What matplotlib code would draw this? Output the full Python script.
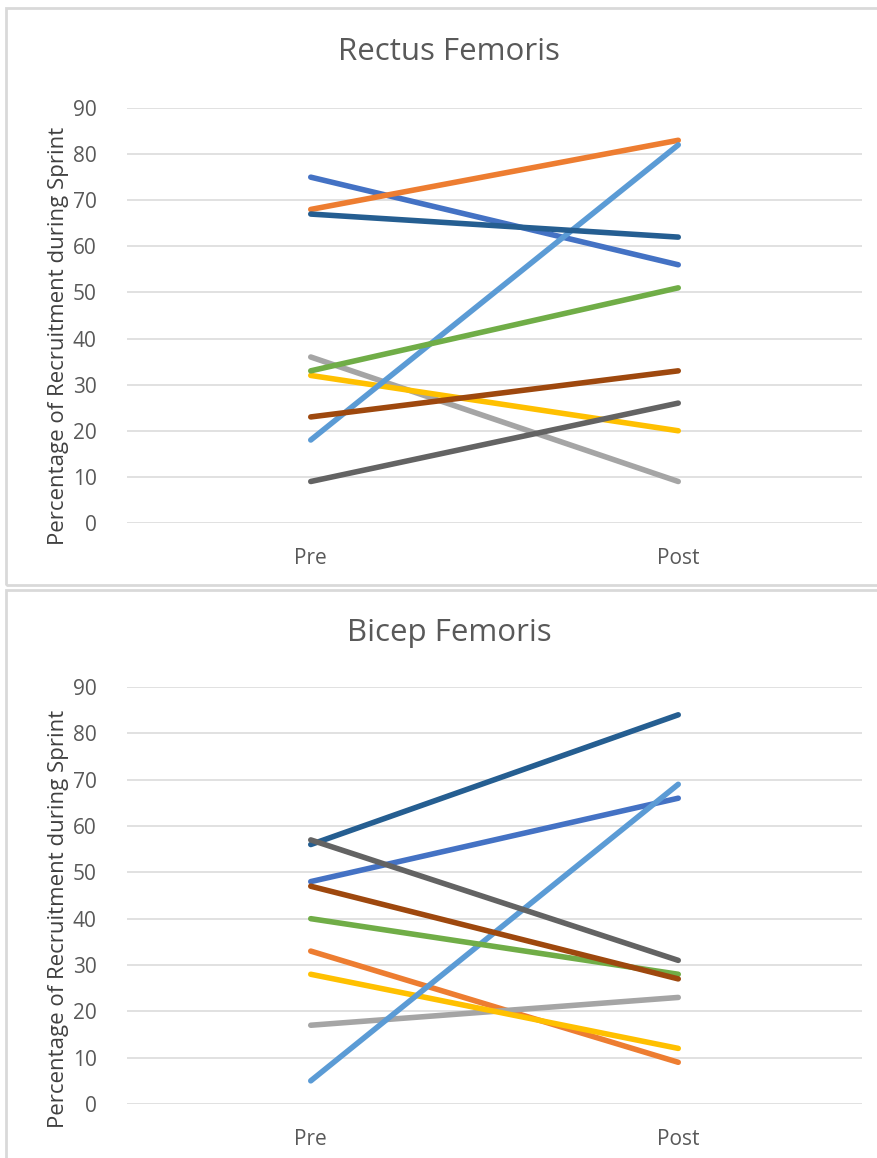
import matplotlib
matplotlib.use("Agg")
import matplotlib.pyplot as plt
from matplotlib.patches import Rectangle

plt.rcParams["font.family"] = ["Open Sans", "DejaVu Sans"]

phases = ["Pre", "Post"]
series_colors = ["#4472C4", "#ED7D31", "#A5A5A5", "#FFC000", "#5B9BD5",
                 "#70AD47", "#255E91", "#9E480E", "#636363"]

# percentage of recruitment, one [pre, post] pair per participant
rectus_femoris = [
    [75, 56], [68, 83], [36, 9], [32, 20], [18, 82],
    [33, 51], [67, 62], [23, 33], [9, 26],
]
bicep_femoris = [
    [48, 66], [33, 9], [17, 23], [28, 12], [5, 69],
    [40, 28], [56, 84], [47, 27], [57, 31],
]

W, H = 878, 1158
fig = plt.figure(figsize=(W / 100, H / 100), dpi=100)
fig.patch.set_facecolor("white")

grid_c = "#D9D9D9"
text_c = "#595959"


def px_box(x0, y_top, x1, y_bot):
    return [x0 / W, 1 - y_bot / H, (x1 - x0) / W, (y_bot - y_top) / H]


def frame(x0, y0, x1, y1):
    fig.patches.append(Rectangle((x0 / W, 1 - y1 / H), (x1 - x0) / W, (y1 - y0) / H,
                                 transform=fig.transFigure, fill=False,
                                 edgecolor=grid_c, lw=2.0))


def panel(data, title, y_top, y_bot, title_y, label_y):
    ax = fig.add_axes(px_box(127, y_top, 862, y_bot))
    for vals, col in zip(data, series_colors):
        ax.plot([0, 1], vals, color=col, lw=4.0, solid_capstyle="round", zorder=3)
    ax.set_xlim(-0.5, 1.5)
    ax.set_ylim(0, 90)
    ax.set_yticks(range(0, 91, 10))
    ax.set_xticks([0, 1])
    ax.set_xticklabels(phases)
    ax.yaxis.grid(True, color=grid_c, lw=1.1)
    ax.set_axisbelow(True)
    for s in ax.spines.values():
        s.set_visible(False)
    ax.tick_params(axis="both", length=0, colors=text_c, labelsize=15)
    ax.tick_params(axis="y", pad=22)
    ax.tick_params(axis="x", pad=18)
    fig.text(449 / W, 1 - title_y / H, title, ha="center", va="center",
             fontsize=22.5, color=text_c)
    fig.text(59 / W, 1 - label_y / H, "Percentage of Recruitment during Sprint",
             rotation=90, ha="center", va="center", fontsize=16, color="#404040")
    return ax


frame(6, 8, 890, 585)
frame(6, 590, 890, 1170)
panel(rectus_femoris, "Rectus Femoris", 108, 523, 52, 336)
panel(bicep_femoris, "Bicep Femoris", 687, 1104, 633, 919)

fig.savefig("out.png", dpi=100)
